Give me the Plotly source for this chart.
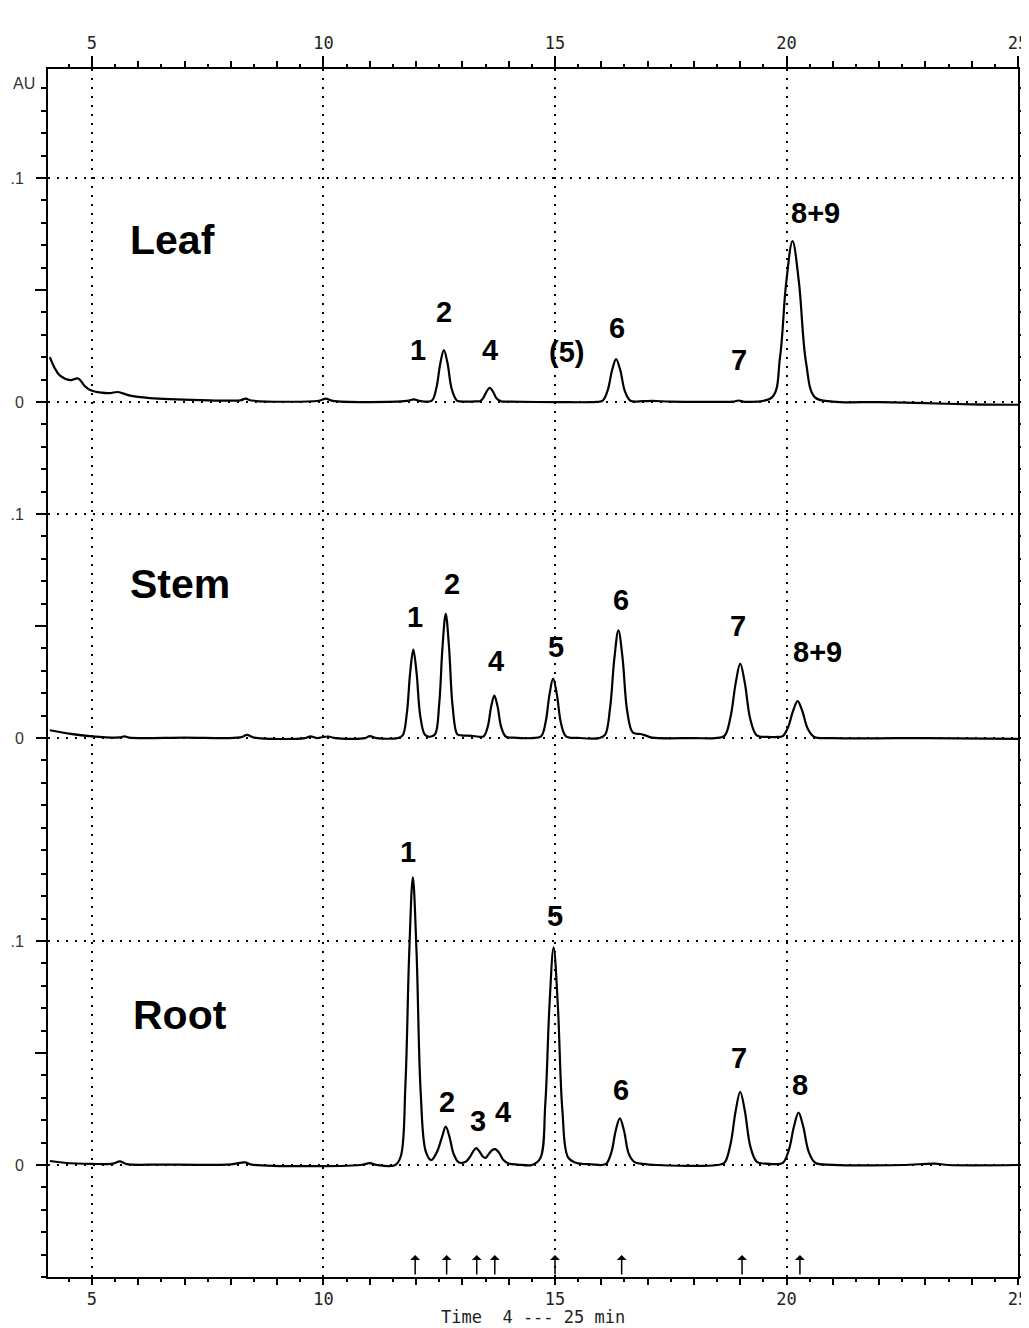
import numpy as np
import plotly.graph_objects as go

# ---------------- data ----------------
# Leaf trace: time (min) and absorbance (AU) relative to its own baseline
leaf_time = [4.09, 4.2, 4.31, 4.53, 4.70, 4.85, 4.96, 5.2, 5.39, 5.56, 5.8, 6.25, 7.33, 8.2, 8.32, 8.45,
             9.9, 10.05, 10.2, 11.8, 11.95, 12.1,
             12.34, 12.44, 12.52, 12.60, 12.68, 12.77, 12.88, 12.95, 13.3,
             13.38, 13.45, 13.52, 13.59, 13.66, 13.74, 13.84, 14.0, 15.0, 15.9,
             16.03, 16.14, 16.23, 16.32, 16.41, 16.51, 16.63, 16.9, 17.1, 17.5, 18.5, 18.85, 18.97, 19.1,
             19.69, 19.86, 19.99, 20.13, 20.27, 20.42, 20.61, 21.0, 22.0, 23.0, 24.0, 25.0]
leaf_au = [0.0201, 0.0150, 0.0118, 0.0098, 0.0105, 0.0070, 0.0054, 0.0042, 0.0040, 0.0045, 0.0030, 0.0018, 0.0009, 0.0008, 0.0015, 0.0007,
           0.0006, 0.0015, 0.0005, 0.0005, 0.0012, 0.0004,
           0.0007, 0.0065, 0.0169, 0.0232, 0.0172, 0.0058, 0.0007, 0.0003, 0.0003,
           0.0004, 0.0018, 0.0046, 0.0063, 0.0047, 0.0016, 0.0003, 0.0002, 0.0, 0.0001,
           0.0006, 0.0054, 0.0140, 0.0192, 0.0142, 0.0048, 0.0006, 0.0004, 0.0005, 0.0002, 0.0001, 0.0002, 0.0007, 0.0001,
           0.0022, 0.0200, 0.0525, 0.0719, 0.0532, 0.0180, 0.0022, 0.0002, 0.0, -0.0005, -0.0010, -0.0012]

stem_time = [4.09, 4.5, 5.0, 5.6, 5.7, 5.8, 7.0, 8.2, 8.35, 8.5, 9.6, 9.72, 9.85, 10.1, 10.25, 10.9, 11.0, 11.15, 11.6,
             11.71, 11.80, 11.87, 11.94, 12.01, 12.09, 12.19, 12.30,
             12.41, 12.50, 12.57, 12.64, 12.71, 12.79, 12.89, 12.98, 13.2, 13.35,
             13.46, 13.55, 13.62, 13.69, 13.76, 13.84, 13.94, 14.1, 14.5,
             14.70, 14.80, 14.88, 14.96, 15.04, 15.13, 15.24, 15.5, 15.95,
             16.08, 16.19, 16.28, 16.37, 16.46, 16.56, 16.68, 16.85, 16.95, 17.1, 18.0, 18.45,
             18.66, 18.79, 18.90, 19.00, 19.10, 19.22, 19.36, 19.6, 19.8,
             19.92, 20.03, 20.14, 20.24, 20.34, 20.46, 20.6, 21.0, 22.0, 23.0, 25.0]
stem_au = [0.0035, 0.0020, 0.0008, 0.0003, 0.0008, 0.0002, 0.0002, 0.0003, 0.0014, 0.0002, 0.0, 0.0008, 0.0, 0.0007, 0.0, 0.0, 0.0009, 0.0, 0.0,
           0.0012, 0.0110, 0.0288, 0.0395, 0.0292, 0.0099, 0.0015, 0.0006,
           0.0017, 0.0155, 0.0405, 0.0555, 0.0410, 0.0139, 0.0017, 0.0012, 0.0010, 0.0006,
           0.0008, 0.0053, 0.0139, 0.0190, 0.0141, 0.0048, 0.0006, 0.0002, 0.0,
           0.0008, 0.0074, 0.0193, 0.0265, 0.0196, 0.0066, 0.0008, 0.0001, 0.0,
           0.0014, 0.0135, 0.0351, 0.0481, 0.0356, 0.0120, 0.0025, 0.0018, 0.0012, 0.0002, 0.0, 0.0,
           0.0010, 0.0093, 0.0242, 0.0332, 0.0246, 0.0083, 0.0012, 0.0005, 0.0005,
           0.0009, 0.0046, 0.0120, 0.0165, 0.0122, 0.0041, 0.0005, 0.0, -0.0001, 0.0, -0.0004]

root_time = [4.09, 4.4, 5.0, 5.45, 5.6, 5.75, 6.5, 8.0, 8.3, 8.45, 10.8, 11.0, 11.15, 11.55,
             11.67, 11.77, 11.85, 11.93, 12.01, 12.10, 12.21, 12.33,
             12.45, 12.56, 12.64, 12.72, 12.81, 12.92, 13.06,
             13.16, 13.23, 13.30, 13.37, 13.44, 13.50, 13.58, 13.64, 13.71, 13.79, 13.88, 14.0, 14.2, 14.5,
             14.68, 14.79, 14.88, 14.97, 15.06, 15.16, 15.28, 15.45, 15.8, 16.0,
             16.11, 16.22, 16.31, 16.40, 16.49, 16.59, 16.71, 16.9, 17.2, 18.5,
             18.66, 18.79, 18.90, 19.00, 19.10, 19.22, 19.36, 19.55, 19.75,
             19.92, 20.05, 20.16, 20.26, 20.36, 20.48, 20.62, 21.0, 22.5, 23.2, 23.5, 25.0]
root_au = [0.0018, 0.0010, 0.0005, 0.0006, 0.0016, 0.0004, 0.0002, 0.0003, 0.0012, 0.0002, 0.0, 0.0008, 0.0, 0.0,
           0.0039, 0.0360, 0.0937, 0.1284, 0.0950, 0.0321, 0.0060, 0.0022,
           0.0058, 0.0125, 0.0171, 0.0127, 0.0050, 0.0012, 0.0013,
           0.0035, 0.0060, 0.0075, 0.0060, 0.0038, 0.0032, 0.0052, 0.0066, 0.0071, 0.0055, 0.0024, 0.0007, 0.0002, 0.0,
           0.0029, 0.0270, 0.0710, 0.0972, 0.0719, 0.0243, 0.0035, 0.0010, 0.0003, 0.0,
           0.0006, 0.0058, 0.0152, 0.0208, 0.0154, 0.0052, 0.0014, 0.0005, 0.0, 0.0,
           0.0010, 0.0092, 0.0239, 0.0327, 0.0242, 0.0082, 0.0014, 0.0006, 0.0004,
           0.0009, 0.0066, 0.0171, 0.0234, 0.0173, 0.0059, 0.0010, 0.0001, 0.0, 0.0006, 0.0, 0.0]

# peak labels: text, time, height above own baseline (AU)
leaf_labels = ["1", "2", "4", "(5)", "6", "7", "8+9"]
leaf_label_t = [12.04, 12.60, 13.60, 15.24, 16.34, 18.97, 20.62]
leaf_label_y = [0.0232, 0.0402, 0.0232, 0.0223, 0.0330, 0.0188, 0.0844]

stem_labels = ["1", "2", "4", "5", "6", "7", "8+9"]
stem_label_t = [11.98, 12.78, 13.73, 15.02, 16.43, 18.95, 20.68]
stem_label_y = [0.0540, 0.0688, 0.0344, 0.0406, 0.0616, 0.0500, 0.0384]

root_labels = ["1", "2", "3", "4", "5", "6", "7", "8"]
root_label_t = [11.83, 12.67, 13.34, 13.88, 14.99, 16.43, 18.97, 20.29]
root_label_y = [0.1397, 0.0281, 0.0196, 0.0237, 0.1112, 0.0335, 0.0478, 0.0357]

sample_names = ["Leaf", "Stem", "Root"]
arrow_times = [11.98, 12.66, 13.31, 13.70, 15.0, 16.44, 19.04, 20.29]

x_major = [5, 10, 15, 20, 25]
x_major_text = ["5", "10", "15", "20", "25"]

# ---------------- layout constants ----------------
LEAF_OFF, STEM_OFF, ROOT_OFF = 0.3406, 0.1906, 0.0
offsets = [LEAF_OFF, STEM_OFF, ROOT_OFF]
XR = [4.05, 25.0]
YR = [-0.05, 0.4893]
PAGE = 8  # default page margin around the figure
W, H = 1029 - PAGE, 1328 - PAGE
ML, MR, MT, MB = 48 - PAGE, 11, 69 - PAGE, 51
PW, PH = W - ML - MR, H - MT - MB

MONO = "DejaVu Sans Mono, Liberation Mono, monospace"
SANS = "Liberation Sans, Arial, sans-serif"

fig = go.Figure()
for t, v, off in [(leaf_time, leaf_au, LEAF_OFF), (stem_time, stem_au, STEM_OFF), (root_time, root_au, ROOT_OFF)]:
    fig.add_trace(go.Scatter(x=t, y=np.array(v) + off, mode="lines",
                             line=dict(color="black", width=2.2, shape="spline", smoothing=1.0),
                             hoverinfo="skip", showlegend=False))

# invisible helpers so that the extra (overlaying) axes are drawn
for xa, ya in [("x2", "y"), ("x3", "y"), ("x4", "y"), ("x", "y2"), ("x", "y3")]:
    fig.add_trace(go.Scatter(x=[XR[0]], y=[YR[0]], xaxis=xa, yaxis=ya, mode="markers",
                             marker=dict(opacity=0, size=1), hoverinfo="skip", showlegend=False))

# y tick positions
major_y = []
major_txt = []
for off in offsets:
    major_y += [off, off + 0.1]
    major_txt += ["0", ".1"]
minor_y = []
for k in range(-5, 14):
    minor_y.append(ROOT_OFF + k * 0.01)
for k in range(-5, 11):
    minor_y.append(STEM_OFF + k * 0.01)
for k in range(-4, 15):
    minor_y.append(LEAF_OFF + k * 0.01)
minor_y = [round(v, 4) for v in minor_y if YR[0] - 1e-6 <= v <= YR[1]]
mid_y = [ROOT_OFF + 0.05, STEM_OFF + 0.05, LEAF_OFF + 0.05]

ints = list(range(4, 26))
halves = [4 + 0.5 * i for i in range(0, 43)]

base_x = dict(range=XR, zeroline=False, tickcolor="black", tickwidth=1.5, fixedrange=True, automargin=False)
base_y = dict(range=YR, zeroline=False, fixedrange=True, automargin=False)
tick_font = dict(family=MONO, size=17, color="#222")
fig.update_layout(
    width=W, height=H, margin=dict(l=ML, r=MR, t=MT, b=MB, autoexpand=False),
    paper_bgcolor="white", plot_bgcolor="white",
    showlegend=False,
    xaxis=dict(**base_x, side="bottom", anchor="y", showline=True, linecolor="black", linewidth=2, showgrid=False,
               ticks="outside", tickvals=ints, ticklen=6, showticklabels=False,
               minor=dict(tickvals=halves, ticklen=3, ticks="outside", tickcolor="black", tickwidth=1.5)),
    xaxis3=dict(**base_x, overlaying="x", side="bottom", anchor="y",
                showline=False, ticks="outside", tickvals=x_major, ticktext=x_major_text, ticklen=7,
                tickfont=tick_font,
                showgrid=True, gridcolor="black", gridwidth=2, griddash="2px,7px"),
    xaxis2=dict(**base_x, overlaying="x", side="top", anchor="y", showline=True, linecolor="black", linewidth=2,
                showgrid=False, ticks="outside", tickvals=ints, ticklen=6, showticklabels=False,
                minor=dict(tickvals=halves, ticklen=3, ticks="outside", tickcolor="black", tickwidth=1.5)),
    xaxis4=dict(**base_x, overlaying="x", side="top", anchor="y", showline=False, showgrid=False,
                ticks="outside", tickvals=x_major, ticktext=x_major_text, ticklen=12,
                tickfont=tick_font),
    yaxis=dict(**base_y, side="left", anchor="x", showline=True, linecolor="black", linewidth=2,
               ticks="outside", tickvals=major_y, ticktext=major_txt, ticklen=10, tickcolor="black", tickwidth=1.5,
               tickfont=dict(family=SANS, size=16, color="#333"), ticklabelstandoff=9,
               showgrid=True, gridcolor="black", gridwidth=1.6, griddash="2px,7px",
               minor=dict(tickvals=minor_y, ticklen=5, ticks="outside", tickcolor="black", tickwidth=1.5, showgrid=False)),
    yaxis2=dict(**base_y, overlaying="y", side="left", anchor="x", showline=False, showgrid=False,
                ticks="outside", tickvals=mid_y, ticklen=12, tickcolor="black", tickwidth=1.5, showticklabels=False),
    yaxis3=dict(**base_y, overlaying="y", side="right", anchor="x", showline=True, linecolor="black", linewidth=2,
                showgrid=False, ticks="outside", tickvals=minor_y, ticklen=5, tickcolor="black",
                tickwidth=1.5, showticklabels=False),
)

# labels
label_font = dict(family=SANS, size=29, color="black", weight="bold")
for labels, ts, ys, off in [(leaf_labels, leaf_label_t, leaf_label_y, LEAF_OFF),
                            (stem_labels, stem_label_t, stem_label_y, STEM_OFF),
                            (root_labels, root_label_t, root_label_y, ROOT_OFF)]:
    for lab, t, y in zip(labels, ts, ys):
        fig.add_annotation(x=t, y=y + off, text=lab, showarrow=False, font=label_font,
                           xanchor="center", yanchor="middle")

name_t = [6.73, 6.90, 6.90]
name_y = [0.0723, 0.0688, 0.0670]
for name, t, y, off in zip(sample_names, name_t, name_y, offsets):
    fig.add_annotation(x=t, y=y + off, text=name, showarrow=False,
                       font=dict(family=SANS, size=41, color="black", weight="bold"),
                       xanchor="center", yanchor="middle")

# AU unit label
fig.add_annotation(xref="paper", x=(24 - PAGE - ML) / PW, y=LEAF_OFF + 0.1424, text="AU", showarrow=False,
                   font=dict(family=SANS, size=16, color="#333"), xanchor="center", yanchor="middle")

# x title
fig.add_annotation(xref="paper", yref="paper", x=(533 - PAGE - ML) / PW, y=-40 / PH, text="Time  4 --- 25 min",
                   showarrow=False, font=dict(family=MONO, size=17, color="#222"),
                   xanchor="center", yanchor="middle")

# arrows marking peaks on the bottom axis
for t in arrow_times:
    fig.add_annotation(x=t, y=-0.0402, ax=0, ay=21, text="", showarrow=True, arrowhead=1,
                       arrowsize=1.1, arrowwidth=1.5, arrowcolor="black")

fig.write_html("out.html")
